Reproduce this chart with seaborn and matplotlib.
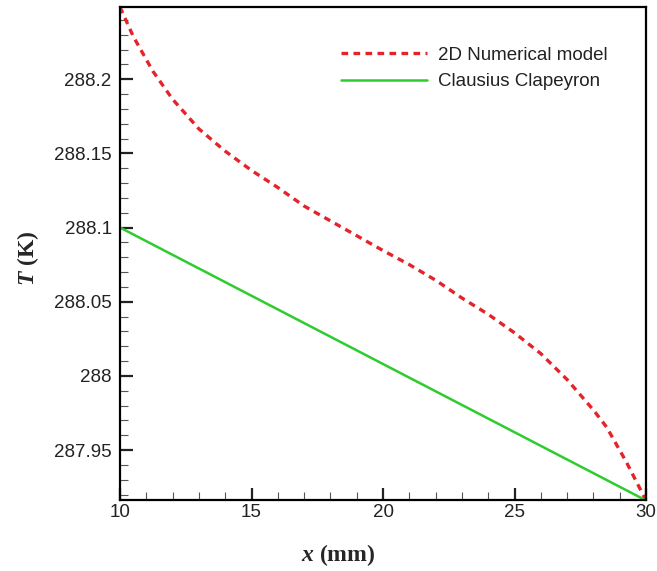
import numpy as np
import pandas as pd
import matplotlib
matplotlib.use("Agg")
import matplotlib.pyplot as plt
import seaborn as sns
from matplotlib.ticker import MultipleLocator, FuncFormatter

# data
x_num = [10, 10.5, 11.25, 12, 13, 14, 15, 16, 17, 18, 19, 20, 21, 22, 23, 24, 25, 26, 27, 28, 28.5, 29.25, 30]
T_num = [288.2487, 288.229, 288.2054, 288.1865, 288.1665, 288.1515, 288.1385, 288.127, 288.1145, 288.1045, 288.0945, 288.0845,
         288.0750, 288.0645, 288.0525, 288.0415, 288.0290, 288.0150, 287.9975, 287.9770, 287.9655, 287.9420, 287.916]
x_cc = [10, 30]
T_cc = [288.1, 287.916]
labels = ["2D Numerical model", "Clausius Clapeyron"]

sns.set_theme(style="ticks")
plt.rcParams['font.family'] = ['Liberation Sans', 'DejaVu Sans']
plt.rcParams['mathtext.fontset'] = 'custom'
plt.rcParams['mathtext.it'] = 'Liberation Serif:italic:bold'
plt.rcParams['mathtext.rm'] = 'Liberation Serif:bold'

df = pd.concat([
    pd.DataFrame({"x": x_num, "T": T_num, "series": labels[0]}),
    pd.DataFrame({"x": x_cc, "T": T_cc, "series": labels[1]}),
])

fig = plt.figure(figsize=(6.57, 5.71), dpi=100)
ax = fig.add_axes([120/657, 1-500/571, 526/657, 493/571])

sns.lineplot(data=df[df.series == labels[0]], x="x", y="T", ax=ax, color="#e3242b",
             linewidth=2.4, label=labels[0], sort=False)
ax.lines[-1].set_dashes([2.0, 1.6])
sns.lineplot(data=df[df.series == labels[1]], x="x", y="T", ax=ax, color="#2ecc2e",
             linewidth=1.8, label=labels[1], sort=False)

ax.set_xlim(10, 30)
ax.set_ylim(287.9163, 288.2487)
ax.xaxis.set_major_locator(MultipleLocator(5))
ax.xaxis.set_minor_locator(MultipleLocator(1))
ax.yaxis.set_major_locator(MultipleLocator(0.05))
ax.yaxis.set_minor_locator(MultipleLocator(0.01))
ax.yaxis.set_major_formatter(FuncFormatter(lambda v, p: ('%.2f' % v).rstrip('0').rstrip('.')))

for s in ax.spines.values():
    s.set_linewidth(1.6)
    s.set_color('black')
    s.set_visible(True)

ax.tick_params(which='major', direction='in', length=9, width=1.6, labelsize=13.5,
               colors='#222222', pad=6, top=False, right=False)
ax.tick_params(which='minor', direction='in', length=5.5, width=0.8, color='#555555',
               top=False, right=False)
ax.tick_params(axis='x', which='major', pad=3)

ax.set_xlabel(r'$x$ (mm)', fontsize=17, fontfamily='Liberation Serif', fontweight='bold')
ax.set_ylabel(r'$T$ (K)', fontsize=17, fontfamily='Liberation Serif', fontweight='bold')
ax.xaxis.set_label_coords(0.415, -0.085)
ax.yaxis.set_label_coords(-0.15, 0.49)

leg = ax.legend(loc='upper left', bbox_to_anchor=(0.405, 0.935), frameon=False, fontsize=13.5,
                handlelength=4.6, handletextpad=0.6, labelspacing=0.5, borderaxespad=0)
for t in leg.get_texts():
    t.set_color('#222222')

fig.savefig("out.png", dpi=100)
